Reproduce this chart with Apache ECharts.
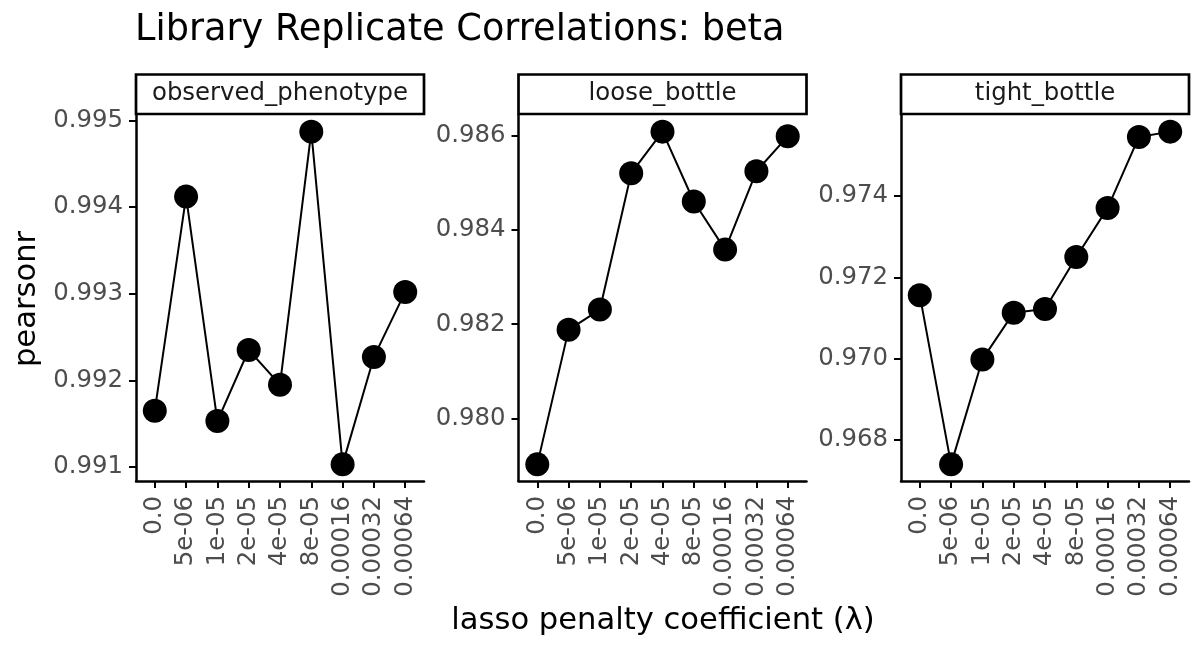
<!DOCTYPE html>
<html>
<head>
<meta charset="utf-8">
<script src="https://cdn.jsdelivr.net/npm/echarts@6/dist/echarts.min.js"></script>
<style>
  html, body { margin: 0; padding: 0; background: #ffffff; }
  #chart { width: 1200px; height: 660px; }
</style>
</head>
<body>
<div id="chart"></div>
<script>
// ---- data ----
const categories = ['0.0', '5e-06', '1e-05', '2e-05', '4e-05', '8e-05', '0.00016', '0.00032', '0.00064'];
const panelNames = ['observed_phenotype', 'loose_bottle', 'tight_bottle'];
const observedPhenotype = [0.99165, 0.99412, 0.99153, 0.99235, 0.99195, 0.99487, 0.99103, 0.99227, 0.99302];
const looseBottle = [0.97903, 0.98188, 0.98231, 0.98520, 0.98608, 0.98460, 0.98358, 0.98524, 0.98598];
const tightBottle = [0.97156, 0.96740, 0.96998, 0.97113, 0.97122, 0.97250, 0.97370, 0.97545, 0.97558];
const ticksObserved = [0.991, 0.992, 0.993, 0.994, 0.995];
const ticksLoose = [0.980, 0.982, 0.984, 0.986];
const ticksTight = [0.968, 0.970, 0.972, 0.974];
const titleText = 'Library Replicate Correlations: beta';
const xTitle = 'lasso penalty coefficient (\u03bb)';
const yTitle = 'pearsonr';

// ---- layout ----
const FONT = 'DejaVu Sans';
const panelLefts = [136, 518.5, 901];
const panelWidth = 288;
const panelTop = 115;
const panelHeight = 366;
const seriesList = [observedPhenotype, looseBottle, tightBottle];
const tickList = [ticksObserved, ticksLoose, ticksTight];
const catIdx = categories.map((c, i) => i);

function expanded(vals) {
  const lo = Math.min(...vals), hi = Math.max(...vals);
  const pad = (hi - lo) * 0.05;
  return [lo - pad, hi + pad];
}

const grids = [], xAxes = [], yAxes = [], series = [], graphics = [];
seriesList.forEach((vals, k) => {
  grids.push({ left: panelLefts[k], top: panelTop, width: panelWidth, height: panelHeight, containLabel: false });
  xAxes.push({
    type: 'value', gridIndex: k, min: -0.6, max: categories.length - 1 + 0.6,
    splitLine: { show: false },
    axisLine: { show: true, onZero: false, lineStyle: { color: '#000', width: 2.5 } },
    axisTick: { show: true, length: 7, customValues: catIdx, lineStyle: { color: '#000', width: 2 } },
    axisLabel: {
      show: true, customValues: catIdx, rotate: 90, margin: 15,
      fontFamily: FONT, fontSize: 24.4, color: '#4d4d4d',
      formatter: v => categories[Math.round(v)]
    }
  });
  const [lo, hi] = expanded(vals);
  yAxes.push({
    type: 'value', gridIndex: k, min: lo, max: hi, scale: true,
    splitLine: { show: false },
    axisLine: { show: true, onZero: false, lineStyle: { color: '#000', width: 2.5 } },
    axisTick: { show: true, length: 7, customValues: tickList[k], lineStyle: { color: '#000', width: 2 } },
    axisLabel: {
      show: true, customValues: tickList[k], margin: 13,
      fontFamily: FONT, fontSize: 24.4, color: '#4d4d4d',
      formatter: v => Number(v).toFixed(3)
    }
  });
  series.push({
    type: 'line', xAxisIndex: k, yAxisIndex: k,
    data: vals.map((v, i) => [catIdx[i], v]),
    symbol: 'circle', symbolSize: 24, clip: false,
    lineStyle: { color: '#000', width: 2 },
    itemStyle: { color: '#000' },
    emphasis: { disabled: true },
    animation: false
  });
  graphics.push({
    type: 'rect', shape: { x: panelLefts[k], y: 74.5, width: panelWidth, height: 39.5 },
    style: { fill: '#fff', stroke: '#000', lineWidth: 2.7 }, z: 10
  });
  graphics.push({
    type: 'text', x: panelLefts[k] + panelWidth / 2, y: 94, z: 11,
    style: { text: panelNames[k], fontFamily: FONT, fontSize: 24.4, fill: '#1a1a1a', align: 'center', verticalAlign: 'middle' }
  });
});

graphics.push({
  type: 'text', x: 663, y: 621, z: 11,
  style: { text: xTitle, fontFamily: FONT, fontSize: 30.6, fill: '#000', align: 'center', verticalAlign: 'middle' }
});
graphics.push({
  type: 'text', x: 27, y: 299, rotation: Math.PI / 2, z: 11,
  style: { text: yTitle, fontFamily: FONT, fontSize: 30.6, fill: '#000', align: 'center', verticalAlign: 'middle' }
});

const chart = echarts.init(document.getElementById('chart'), null, { renderer: 'canvas' });
chart.setOption({
  animation: false,
  backgroundColor: '#ffffff',
  title: {
    text: titleText, left: 135, top: 12, padding: 0,
    textStyle: { fontFamily: FONT, fontSize: 36.7, fontWeight: 'normal', color: '#000' }
  },
  grid: grids,
  xAxis: xAxes,
  yAxis: yAxes,
  series: series,
  graphic: graphics
});
</script>
</body>
</html>
